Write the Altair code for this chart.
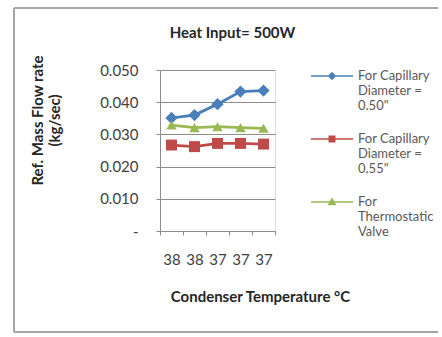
import json
import altair as alt
import pandas as pd

categories = ["38", "38", "37", "37", "37"]
series_names = [
    "For Capillary|Diameter =|0.50\"",
    "For Capillary|Diameter =|0.55\"",
    "For|Thermostatic|Valve",
]
cap_050 = [0.0351, 0.0360, 0.0394, 0.0433, 0.0436]
cap_055 = [0.0267, 0.0262, 0.0272, 0.0272, 0.0270]
thermo = [0.0329, 0.0321, 0.0324, 0.0321, 0.0319]
colors = ["#4a7ebb", "#be4b48", "#98b954"]
y_ticks = [0.0, 0.01, 0.02, 0.03, 0.04, 0.05]

rows = []
for name, vals in zip(series_names, [cap_050, cap_055, thermo]):
    for i, v in enumerate(vals):
        rows.append({"idx": i, "series": name, "value": v})
df = pd.DataFrame(rows)

FONT = "Lato"
label_expr = json.dumps(categories) + "[datum.value]"

x_enc = alt.X(
    "idx:O",
    scale=alt.Scale(type="band", paddingInner=0, paddingOuter=0),
    axis=alt.Axis(
        title="Condenser Temperature \u00b0C",
        labelExpr=label_expr,
        labelAngle=0,
        tickBand="extent",
        tickSize=4,
        tickColor="#8c8c8c",
        domainColor="#8c8c8c",
        labelPadding=17,
        labelFontSize=15,
        labelColor="#404040",
        labelFont=FONT,
        titleFont=FONT,
        titleFontSize=15,
        titleFontWeight="bold",
        titleColor="#262626",
        titleX=100,
        titleY=65,
        titleBaseline="middle",
        grid=False,
    ),
)
y_enc = alt.Y(
    "value:Q",
    scale=alt.Scale(domain=[0, 0.05], nice=False),
    axis=alt.Axis(
        values=y_ticks,
        title=["Ref. Mass Flow rate", "(kg/sec)"],
        labelExpr="datum.value == 0 ? '-\u00a0\u00a0\u00a0' : format(datum.value, '.3f')",
        tickSize=4,
        tickColor="#8c8c8c",
        domainColor="#8c8c8c",
        gridColor="#8c8c8c",
        labelPadding=18,
        labelFontSize=15,
        labelColor="#404040",
        labelFont=FONT,
        titleFont=FONT,
        titleFontSize=15,
        titleFontWeight="bold",
        titleColor="#262626",
        titleLineHeight=17,
        titleX=-123,
        titleY=50,
        titleAlign="center",
        titleBaseline="middle",
    ),
)

base = alt.Chart(df)

shape_marks = ["diamond", "square", "triangle-up"]
sizes = [150, 120, 110]
line_layers = []
point_layers = []
for name, col, shp, sz in zip(series_names, colors, shape_marks, sizes):
    sub = base.transform_filter(alt.datum.series == name)
    line_layers.append(sub.mark_line(color=col, strokeWidth=2.8).encode(x=x_enc, y=y_enc))
    point_layers.append(
        sub.mark_point(shape=shp, filled=True, size=sz, color=col, opacity=1).encode(
            x=x_enc, y=y_enc
        )
    )

legend_paths = [
    "M-1,0H1M0,-0.15L0.15,0L0,0.15L-0.15,0Z",
    "M-1,0H1M-0.13,-0.13H0.13V0.13H-0.13Z",
    "M-1,0H1M0,-0.15L0.15,0.12H-0.15Z",
]
legend_layer = base.mark_point(filled=False, strokeWidth=1.8, opacity=0).encode(
    x=x_enc,
    y=y_enc,
    color=alt.Color(
        "series:N",
        scale=alt.Scale(domain=series_names, range=colors),
        legend=alt.Legend(
            title=None,
            orient="none",
            legendX=150,
            legendY=-16,
            labelExpr="split(datum.label, '|')",
            labelFont=FONT,
            labelFontSize=13,
            labelColor="#595959",
            labelBaseline="middle",
            symbolSize=1764,
            labelOffset=4,
            rowPadding=4,
            symbolOpacity=1,
        ),
    ),
    fill=alt.Fill(
        "series:N",
        scale=alt.Scale(domain=series_names, range=colors),
        legend=alt.Legend(title=None),
    ),
    shape=alt.Shape(
        "series:N",
        scale=alt.Scale(domain=series_names, range=legend_paths),
        legend=alt.Legend(title=None),
    ),
)

frame_data = alt.Data(values=[{}])
frame_style = dict(color="#a6a6a6", strokeWidth=2)
frame_left = alt.Chart(frame_data).mark_rule(**frame_style).encode(
    x=alt.value(-146), y=alt.value(-62), y2=alt.value(262)
)
frame_top = alt.Chart(frame_data).mark_rule(**frame_style).encode(
    x=alt.value(-146), x2=alt.value(278), y=alt.value(-62)
)
frame_bottom = alt.Chart(frame_data).mark_rule(**frame_style).encode(
    x=alt.value(-146), x2=alt.value(278), y=alt.value(262)
)

chart = (
    alt.layer(frame_left, frame_top, frame_bottom, *line_layers, *point_layers, legend_layer)
    .properties(
        width=115,
        height=161,
        padding={"left": 160, "top": 70, "right": 167, "bottom": 106},
        autosize=alt.AutoSizeParams(type="none"),
        title=alt.TitleParams(
            "Heat Input= 500W",
            font=FONT,
            fontSize=15,
            fontWeight="bold",
            color="#262626",
            anchor="middle",
            dx=15,
            offset=-34,
        ),
    )
    .configure_view(stroke=None)
    .configure(background="white")
)

chart.save("out.html", embed_options={"renderer": "svg", "actions": False})
